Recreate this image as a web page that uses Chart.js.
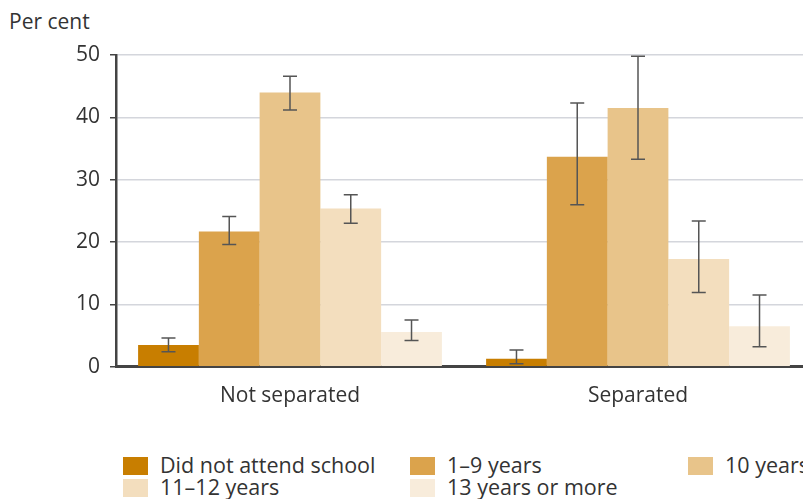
<!DOCTYPE html>
<html>
<head>
<meta charset="utf-8">
<script src="https://cdn.jsdelivr.net/npm/chart.js@4"></script>
<style>
  html, body { margin: 0; padding: 0; background: #fff; overflow: hidden; }
  body { width: 803px; height: 499px; position: relative; font-family: "Open Sans", sans-serif; color: #333; }
  #wrap { position: absolute; left: 0; top: 0; width: 812px; height: 426px; }
  #unit { position: absolute; left: 9px; top: 7px; font-size: 21px; }
  #legend { position: absolute; left: 123px; top: 454px; width: 700px; font-size: 21.5px; }
  .item { position: absolute; white-space: nowrap; line-height: 22px; }
  .item span { display: inline-block; width: 25px; height: 18px; vertical-align: -2px; margin-right: 12px; }
</style>
</head>
<body>
<div id="unit">Per cent</div>
<div id="wrap"><canvas id="chart"></canvas></div>
<div id="legend"></div>
<script>
const groups = ['Not separated', 'Separated'];
const levels = ['Did not attend school', '1\u20139 years', '10 years', '11\u201312 years', '13 years or more'];
const colours = [
    'rgb(200, 126, 0)',
    'rgb(219, 163, 76)',
    'rgb(232, 196, 138)',
    'rgb(243, 222, 190)',
    'rgb(248, 236, 219)'
];
// values per education level: [not separated, separated]
const values = [
    [3.5, 1.3],
    [21.7, 33.7],
    [44.0, 41.5],
    [25.4, 17.3],
    [5.6, 6.5]
];
const errLow = [
    [2.4, 0.5],
    [19.6, 26.0],
    [41.2, 33.3],
    [23.0, 11.9],
    [4.2, 3.2]
];
const errHigh = [
    [4.6, 2.7],
    [24.1, 42.3],
    [46.6, 49.8],
    [27.6, 23.4],
    [7.5, 11.5]
];

const errorBars = {
    id: 'errorBars',
    afterDatasetsDraw(chart) {
        const ctx = chart.ctx;
        const y = chart.scales.y;
        ctx.save();
        ctx.strokeStyle = '#555';
        ctx.lineWidth = 1.5;
        chart.data.datasets.forEach(function (ds, i) {
            chart.getDatasetMeta(i).data.forEach(function (bar, j) {
                const top = y.getPixelForValue(errHigh[i][j]);
                const bot = y.getPixelForValue(errLow[i][j]);
                ctx.beginPath();
                ctx.moveTo(bar.x, top);
                ctx.lineTo(bar.x, bot);
                ctx.moveTo(bar.x - 7, top);
                ctx.lineTo(bar.x + 7, top);
                ctx.moveTo(bar.x - 7, bot);
                ctx.lineTo(bar.x + 7, bot);
                ctx.stroke();
            });
        });
        ctx.restore();
    }
};

let ctx = document.getElementById('chart');
let chart = new Chart(ctx, {
    type: 'bar',
    data: {
        labels: groups,
        datasets: levels.map(function (name, i) {
            return {
                label: name,
                data: values[i],
                backgroundColor: colours[i],
                categoryPercentage: 0.873,
                barPercentage: 1.0
            };
        })
    },
    options: {
        responsive: true,
        maintainAspectRatio: false,
        animation: false,
        layout: { padding: { top: 55, left: 0, right: 0, bottom: 0 } },
        plugins: {
            legend: { display: false },
            tooltip: { enabled: false }
        },
        scales: {
            x: {
                grid: { display: false, drawTicks: false },
                border: { color: '#444', width: 3 },
                ticks: { color: '#333', font: { family: 'Open Sans', size: 21 }, padding: 17 }
            },
            y: {
                min: 0,
                max: 50,
                afterFit: function (scale) { scale.width = 116; },
                grid: { color: 'rgb(212, 214, 220)', lineWidth: 1.5, tickColor: '#444', tickLength: 6 },
                border: { color: '#444', width: 2.5 },
                ticks: { stepSize: 10, color: '#333', font: { family: 'Open Sans', size: 21 }, padding: 10 }
            }
        }
    },
    plugins: [errorBars]
});

// html legend, three columns
const cols = [0, 287, 565];
const legend = document.getElementById('legend');
levels.forEach(function (name, i) {
    let d = document.createElement('div');
    d.className = 'item';
    d.style.left = cols[i % 3] + 'px';
    d.style.top = (Math.floor(i / 3) * 22) + 'px';
    d.innerHTML = '<span style="background:' + colours[i] + '"></span>' + name;
    legend.appendChild(d);
});
</script>
</body>
</html>
